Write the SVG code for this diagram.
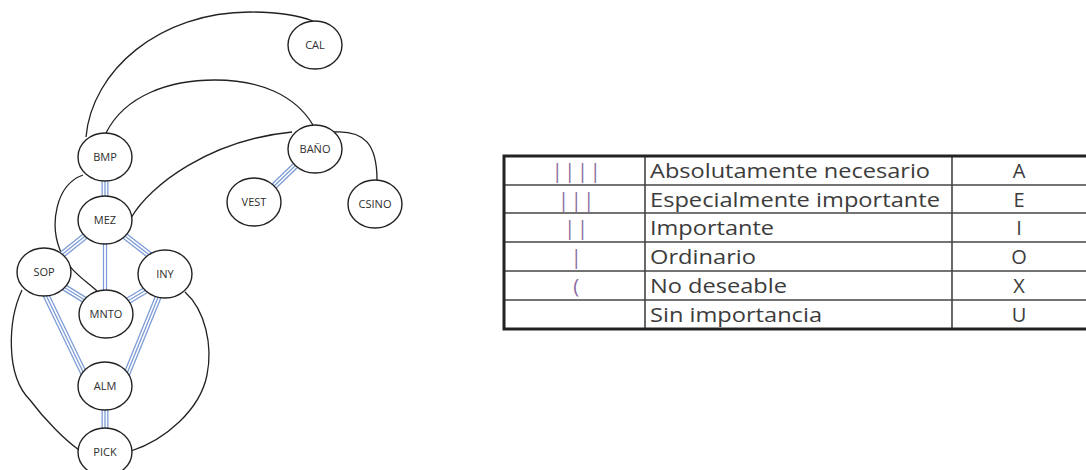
<svg xmlns="http://www.w3.org/2000/svg" xmlns:xlink="http://www.w3.org/1999/xlink" width="1086" height="470" viewBox="0 0 1086 470">
<style>
.node ellipse{fill:#fff;stroke:#222;stroke-width:1.4}
.node text{font-family:"Open Sans","DejaVu Sans",sans-serif;font-size:11px;fill:#2e2e2e;text-anchor:middle}
.cur{fill:none;stroke:#222;stroke-width:1.3}
.o{stroke:#7c9cd6;stroke-width:7;fill:none}
.w{stroke:#fff;stroke-width:4.4;fill:none}
.c{stroke:#7c9cd6;stroke-width:1.3;fill:none}
.o2{stroke:#7c9cd6;stroke-width:4.2;fill:none}
.w2{stroke:#fff;stroke-width:1.8;fill:none}
.tb{font-family:"Open Sans","DejaVu Sans",sans-serif;font-size:20px;fill:#3c3c3c}
.mk{font-family:"Open Sans","DejaVu Sans",sans-serif;font-size:20px;fill:#8a6b9f;text-anchor:middle;letter-spacing:1.7px}
.lt{text-anchor:middle}
.grid{stroke:#444;stroke-width:1.6}
</style>
<defs>
<path id="e1" d="M105,178 L105,198"/>
<path id="e2" d="M89,233 L59,257"/>
<path id="e3" d="M121,233 L152,257"/>
<path id="e4" d="M105,242 L105,292"/>
<path id="e5" d="M62,286 L88,302"/>
<path id="e6" d="M146,290 L126,302"/>
<path id="e7" d="M45,293 L85,376"/>
<path id="e8" d="M159,295 L126,376"/>
<path id="e9" d="M105,408 L105,430"/>
<path id="e10" d="M298,163 L271,189"/>
</defs>
<g id="connectors">
<path class="cur" d="M86,137 C92,70 160,12 250,12 C280,12 300,16 313,21"/>
<path class="cur" d="M106,133 C125,95 170,80 215,80 C260,80 295,95 313,125"/>
<path class="cur" d="M131,218 C150,185 210,140 292,132"/>
<path class="cur" d="M334,132 C365,130 377,145 377,180"/>
<path class="cur" d="M83,175 C55,185 50,225 60,250 C68,270 85,280 97,291"/>
<path class="cur" d="M22,290 C8,320 5,375 30,400 C45,420 65,440 79,450"/>
<path class="cur" d="M185,292 C205,310 213,345 207,375 C200,410 165,440 131,451"/>
<use xlink:href="#e1" class="o"/><use xlink:href="#e1" class="w"/><use xlink:href="#e1" class="c"/>
<use xlink:href="#e2" class="o"/><use xlink:href="#e2" class="w"/><use xlink:href="#e2" class="c"/>
<use xlink:href="#e3" class="o"/><use xlink:href="#e3" class="w"/><use xlink:href="#e3" class="c"/>
<use xlink:href="#e4" class="o2"/><use xlink:href="#e4" class="w2"/>
<use xlink:href="#e5" class="o"/><use xlink:href="#e5" class="w"/><use xlink:href="#e5" class="c"/>
<use xlink:href="#e6" class="o"/><use xlink:href="#e6" class="w"/><use xlink:href="#e6" class="c"/>
<use xlink:href="#e7" class="o"/><use xlink:href="#e7" class="w"/><use xlink:href="#e7" class="c"/>
<use xlink:href="#e8" class="o"/><use xlink:href="#e8" class="w"/><use xlink:href="#e8" class="c"/>
<use xlink:href="#e9" class="o"/><use xlink:href="#e9" class="w"/><use xlink:href="#e9" class="c"/>
<use xlink:href="#e10" class="o"/><use xlink:href="#e10" class="w"/><use xlink:href="#e10" class="c"/>
</g>
<g id="CAL" class="node"><ellipse cx="315" cy="45" rx="27" ry="24"/><text x="315" y="49">CAL</text></g>
<g id="BMP" class="node"><ellipse cx="105" cy="157" rx="27" ry="24"/><text x="105" y="161">BMP</text></g>
<g id="BANO" class="node"><ellipse cx="315" cy="149" rx="27" ry="24"/><text x="315" y="153">BAÑO</text></g>
<g id="VEST" class="node"><ellipse cx="254" cy="202" rx="27" ry="24"/><text x="254" y="206">VEST</text></g>
<g id="CSINO" class="node"><ellipse cx="375" cy="204" rx="27" ry="24"/><text x="375" y="208">CSINO</text></g>
<g id="MEZ" class="node"><ellipse cx="105" cy="220" rx="27" ry="24"/><text x="105" y="224">MEZ</text></g>
<g id="SOP" class="node"><ellipse cx="44" cy="272" rx="27" ry="24"/><text x="44" y="276">SOP</text></g>
<g id="INY" class="node"><ellipse cx="165" cy="274" rx="27" ry="24"/><text x="165" y="278">INY</text></g>
<g id="MNTO" class="node"><ellipse cx="106" cy="314" rx="27" ry="24"/><text x="106" y="318">MNTO</text></g>
<g id="ALM" class="node"><ellipse cx="105" cy="386" rx="27" ry="24"/><text x="105" y="390">ALM</text></g>
<g id="PICK" class="node"><ellipse cx="105" cy="452" rx="27" ry="24"/><text x="105" y="456">PICK</text></g>
<g id="legend">
<line class="grid" x1="504" y1="185" x2="1086" y2="185"/>
<line class="grid" x1="504" y1="213" x2="1086" y2="213"/>
<line class="grid" x1="504" y1="242" x2="1086" y2="242"/>
<line class="grid" x1="504" y1="271" x2="1086" y2="271"/>
<line class="grid" x1="504" y1="300" x2="1086" y2="300"/>
<line class="grid" x1="645" y1="156" x2="645" y2="329"/>
<line class="grid" x1="952" y1="156" x2="952" y2="329"/>
<rect x="504" y="156" width="586" height="173" fill="none" stroke="#222" stroke-width="3"/>
<text class="mk" x="577" y="178">||||</text>
<text class="mk" x="577" y="206.5">|||</text>
<text class="mk" x="577" y="235">||</text>
<text class="mk" x="577" y="264">|</text>
<text class="mk" x="577" y="293">(</text>
<text class="tb" x="650" y="178" textLength="280" lengthAdjust="spacingAndGlyphs">Absolutamente necesario</text>
<text class="tb" x="650" y="206.5" textLength="290" lengthAdjust="spacingAndGlyphs">Especialmente importante</text>
<text class="tb" x="650" y="235" textLength="124" lengthAdjust="spacingAndGlyphs">Importante</text>
<text class="tb" x="650" y="264" textLength="106" lengthAdjust="spacingAndGlyphs">Ordinario</text>
<text class="tb" x="650" y="293" textLength="137" lengthAdjust="spacingAndGlyphs">No deseable</text>
<text class="tb" x="650" y="322" textLength="172" lengthAdjust="spacingAndGlyphs">Sin importancia</text>
<text class="tb lt" x="1019" y="178">A</text>
<text class="tb lt" x="1019" y="206.5">E</text>
<text class="tb lt" x="1019" y="235">I</text>
<text class="tb lt" x="1019" y="264">O</text>
<text class="tb lt" x="1019" y="293">X</text>
<text class="tb lt" x="1019" y="322">U</text>
</g>
</svg>
